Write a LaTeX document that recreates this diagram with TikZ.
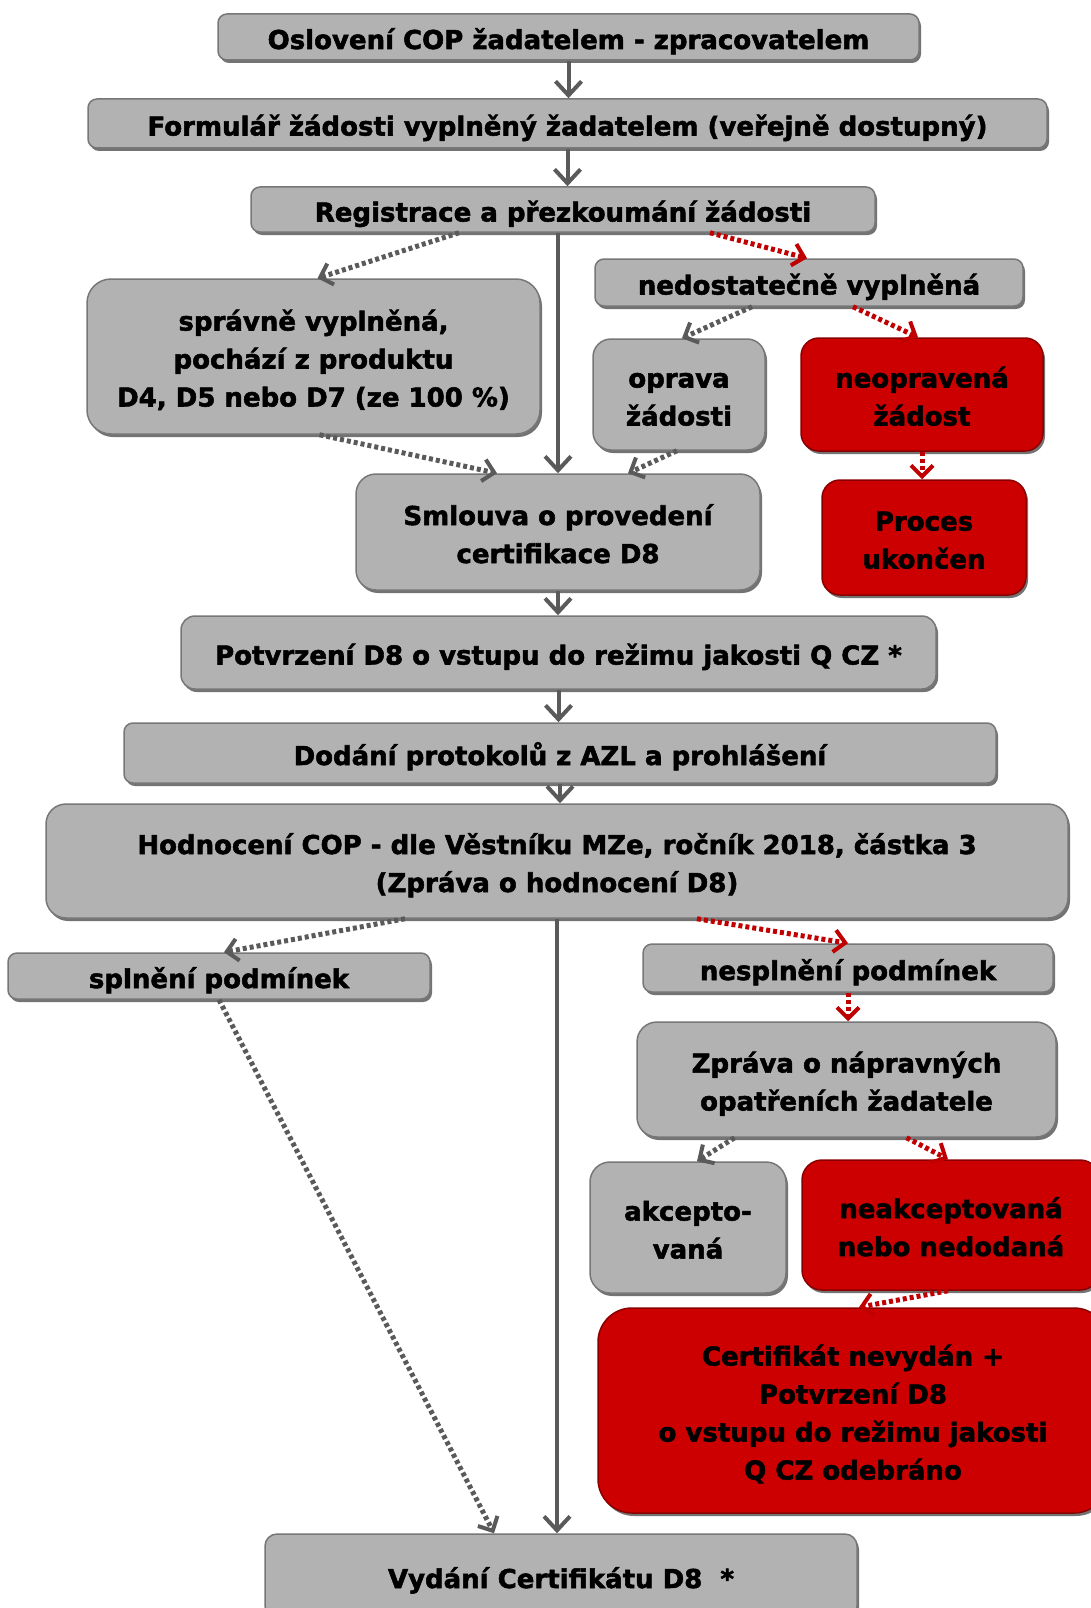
\documentclass[tikz,border=0pt]{standalone}
\usepackage{fontspec}
\setmainfont{DejaVu Sans}[BoldFeatures={FakeBold=2}]
\usetikzlibrary{arrows.meta,shadows}
\definecolor{boxgray}{HTML}{B2B2B2}
\definecolor{glight}{HTML}{D4D4D4}
\definecolor{gdark}{HTML}{8C8C8C}
\definecolor{boxedge}{HTML}{777777}
\definecolor{boxred}{HTML}{CC0000}
\definecolor{rlight}{HTML}{E63333}
\definecolor{rdark}{HTML}{A00000}
\definecolor{rededge}{HTML}{8A0000}
\definecolor{arrgray}{HTML}{5A5A5A}
\definecolor{arrred}{HTML}{C00000}
\newcommand\topstr{\rule{0pt}{31pt}}
\newcommand\botstr{\rule[-7pt]{0pt}{0pt}}
\pgfdeclareverticalshading{gbev}{100bp}{color(0bp)=(gdark); color(8bp)=(boxgray); color(90bp)=(boxgray); color(96bp)=(glight); color(100bp)=(boxgray)}
\pgfdeclareverticalshading{rbev}{100bp}{color(0bp)=(rdark); color(8bp)=(boxred); color(90bp)=(boxred); color(96bp)=(rlight); color(100bp)=(boxred)}
\begin{document}
\begin{tikzpicture}[x=1pt,y=-1pt,
  gbox/.style={draw=boxedge, line width=1.5pt, shade, shading=gbev, rounded corners=#1,
    align=center, inner sep=0pt, font=\bfseries\fontsize{26}{38}\selectfont,
    execute at begin node={\topstr},
    execute at end node={\botstr},
    drop shadow={shadow xshift=2pt, shadow yshift=-3pt, opacity=0.55, fill=black}},
  gbox/.default=9pt,
  rbox/.style={gbox=#1, shading=rbev, draw=rededge},
  rbox/.default=22pt,
  sarr/.style={draw=arrgray, line width=4pt,
    -{Straight Barb[length=14pt,width=26pt,line width=4pt]}},
  dgarr/.style={draw=arrgray, line width=5pt, dash pattern=on 4pt off 3pt,
    -{Straight Barb[length=11pt,width=22pt,line width=4pt]}},
  drarr/.style={dgarr, draw=arrred},
]
\useasboundingbox (0,0) rectangle (1091,1608);
\clip (0,0) rectangle (1091,1608);

\node[gbox, minimum width=701, minimum height=46] (osl) at (568.5,37) {Oslovení COP žadatelem - zpracovatelem};
\node[gbox, minimum width=959, minimum height=49] (form) at (567.5,123.5) {Formulář žádosti vyplněný žadatelem (veřejně dostupný)};
\node[gbox, minimum width=624, minimum height=45] (reg) at (563,209.5) {Registrace a přezkoumání žádosti};
\node[gbox=24pt, minimum width=453, minimum height=155] (spr) at (313.5,356.5) {\topstr správně vyplněná,\\pochází z produktu\\D4, D5 nebo D7 (ze 100 \%)\botstr};
\node[gbox, minimum width=428, minimum height=47] (nedo) at (809,282.5) {nedostatečně vyplněná};
\node[gbox=18pt, minimum width=172, minimum height=111] (opr) at (679,394.5) {\topstr oprava\\žádosti\botstr};
\node[rbox=18pt, minimum width=242, minimum height=113] (neopr) at (922,394.5) {\topstr neopravená\\žádost\botstr};
\node[gbox=20pt, minimum width=404, minimum height=116] (sml) at (558,532) {\topstr Smlouva o provedení\\certifikace D8\botstr};
\node[rbox=18pt, minimum width=204, minimum height=115] (proc) at (924,537.5) {\topstr Proces\\ukončen\botstr};
\node[gbox=14pt, minimum width=755, minimum height=73] (potv) at (558.5,652.5) {Potvrzení D8 o vstupu do režimu jakosti Q CZ *};
\node[gbox, minimum width=872, minimum height=60] (dod) at (560,753) {Dodání protokolů z AZL a prohlášení};
\node[gbox=20pt, minimum width=1022, minimum height=114] (hod) at (557,861) {\topstr Hodnocení COP - dle Věstníku MZe, ročník 2018, částka 3\\(Zpráva o hodnocení D8)\botstr};
\node[gbox, minimum width=422, minimum height=46] (spl) at (219,976) {splnění podmínek};
\node[gbox, minimum width=410, minimum height=48] (nespl) at (848,968) {nesplnění podmínek};
\node[gbox=20pt, minimum width=419, minimum height=115] (zpr) at (846.5,1079.5) {\topstr Zpráva o nápravných\\opatřeních žadatele\botstr};
\node[gbox=20pt, minimum width=196, minimum height=131] (akc) at (688,1227.5) {\topstr akcepto-\\vaná\botstr};
\node[rbox=20pt, minimum width=298, minimum height=130] (neakc) at (951,1225) {\topstr neakceptovaná\\nebo nedodaná\botstr};
\node[rbox=34pt, minimum width=510, minimum height=205] (cert) at (853,1410.5) {\topstr Certifikát nevydán +\\Potvrzení D8\\o vstupu do režimu jakosti\\Q CZ odebráno\botstr};
\node[gbox=12pt, minimum width=592, minimum height=84] (vyd) at (561,1576) {Vydání Certifikátu D8~~*};

% solid arrows
\draw[sarr] (osl.south) -- (osl.south |- form.north);
\draw[sarr] (form.south) -- (form.south |- reg.north);
\draw[sarr] (reg.south -| sml.north) -- (sml.north);
\draw[sarr] (sml.south) -- (sml.south |- potv.north);
\draw[sarr] (potv.south) -- (potv.south |- dod.north);
\draw[sarr] (dod.south) -- (dod.south |- hod.north);
\draw[sarr] (hod.south) -- (hod.south |- vyd.north);

% dotted arrows
\draw[dgarr] ([xshift=-104pt]reg.south) -- ([xshift=4pt]spr.north);
\draw[drarr] ([xshift=147pt]reg.south) -- ([xshift=-2pt]nedo.north);
\draw[dgarr] ([xshift=-57pt]nedo.south) -- ([xshift=3pt]opr.north);
\draw[drarr] ([xshift=44pt]nedo.south) -- ([xshift=-4pt]neopr.north);
\draw[drarr] (neopr.south) -- (neopr.south |- proc.north);
\draw[dgarr] ([xshift=6pt]spr.south) -- ([xshift=-61pt]sml.north);
\draw[dgarr] ([xshift=-2pt]opr.south) -- ([xshift=70pt]sml.north);
\draw[dgarr] ([xshift=-152pt]hod.south) -- ([xshift=5pt]spl.north);
\draw[drarr] ([xshift=140pt]hod.south) -- (nespl.north);
\draw[drarr] (nespl.south) -- (nespl.south |- zpr.north);
\draw[dgarr] ([xshift=-112pt]zpr.south) -- ([xshift=9pt]akc.north);
\draw[drarr] ([xshift=60pt]zpr.south) -- ([xshift=-3pt]neakc.north);
\draw[drarr] ([xshift=-3pt]neakc.south) -- ([xshift=6pt]cert.north);
\draw[dgarr] (spl.south) -- ([xshift=-67pt]vyd.north);
\end{tikzpicture}
\end{document}
